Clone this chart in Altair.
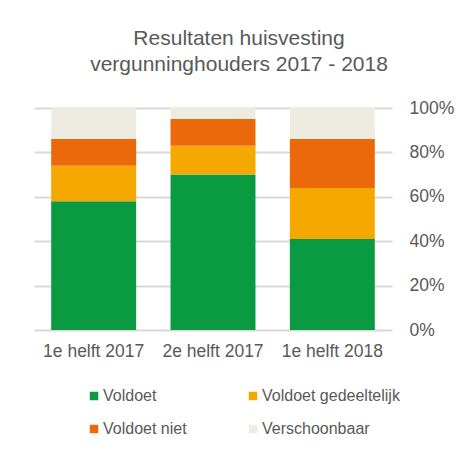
import altair as alt
import pandas as pd

periods = ["1e helft 2017", "2e helft 2017", "1e helft 2018"]
categories = ["Voldoet", "Voldoet gedeeltelijk", "Voldoet niet", "Verschoonbaar"]
voldoet = [58, 70, 41]
gedeeltelijk = [16, 13, 23]
niet = [12, 12, 22]
verschoonbaar = [14, 5, 14]
colors = ["#0A9A41", "#F5A800", "#EB690B", "#EEECE1"]

series = [voldoet, gedeeltelijk, niet, verschoonbaar]
rows = []
for ci, (cat, vals) in enumerate(zip(categories, series)):
    for p, v in zip(periods, vals):
        rows.append({"period": p, "category": cat, "value": v, "order": ci})
df = pd.DataFrame(rows)

FONT = "Liberation Sans"
TXT = "#595959"

chart = alt.Chart(df).mark_bar().encode(
    x=alt.X("period:N", sort=periods,
            scale=alt.Scale(paddingInner=0.288, paddingOuter=0.144),
            axis=alt.Axis(title=None, labelAngle=0, domain=False, ticks=False,
                          labelPadding=12, labelFontSize=17.5, labelColor=TXT,
                          labelFont=FONT)),
    y=alt.Y("value:Q", stack="normalize",
            scale=alt.Scale(domain=[0, 1]),
            axis=alt.Axis(title=None, orient="right", format=".0%",
                          values=[0, 0.2, 0.4, 0.6, 0.8, 1.0],
                          domain=False, ticks=False, labelPadding=17,
                          labelFontSize=17.5, labelColor=TXT, labelFont=FONT,
                          gridColor="#D9D9D9", gridWidth=2)),
    color=alt.Color("category:N",
                    scale=alt.Scale(domain=categories, range=colors),
                    legend=alt.Legend(title=None, orient="none", columns=2,
                                      direction="horizontal",
                                      legendX=52, legendY=280,
                                      symbolType="square", symbolSize=72,
                                      symbolStrokeWidth=0, labelOffset=1,
                                      labelFontSize=16, labelColor=TXT,
                                      labelFont=FONT, columnPadding=58,
                                      rowPadding=17, padding=0)),
    order=alt.Order("order:Q"),
).properties(
    width=358,
    height=222,
    padding={"left": 34, "top": 28, "right": 5, "bottom": 5},
    title=alt.TitleParams(
        text=["Resultaten huisvesting", "vergunninghouders 2017 - 2018"],
        font=FONT, fontSize=21, fontWeight="normal", color=TXT,
        lineHeight=26, anchor="middle", dx=26, offset=24,
    ),
).configure_view(stroke=None)

chart.save("out.html", embed_options={"renderer": "svg", "actions": False})
